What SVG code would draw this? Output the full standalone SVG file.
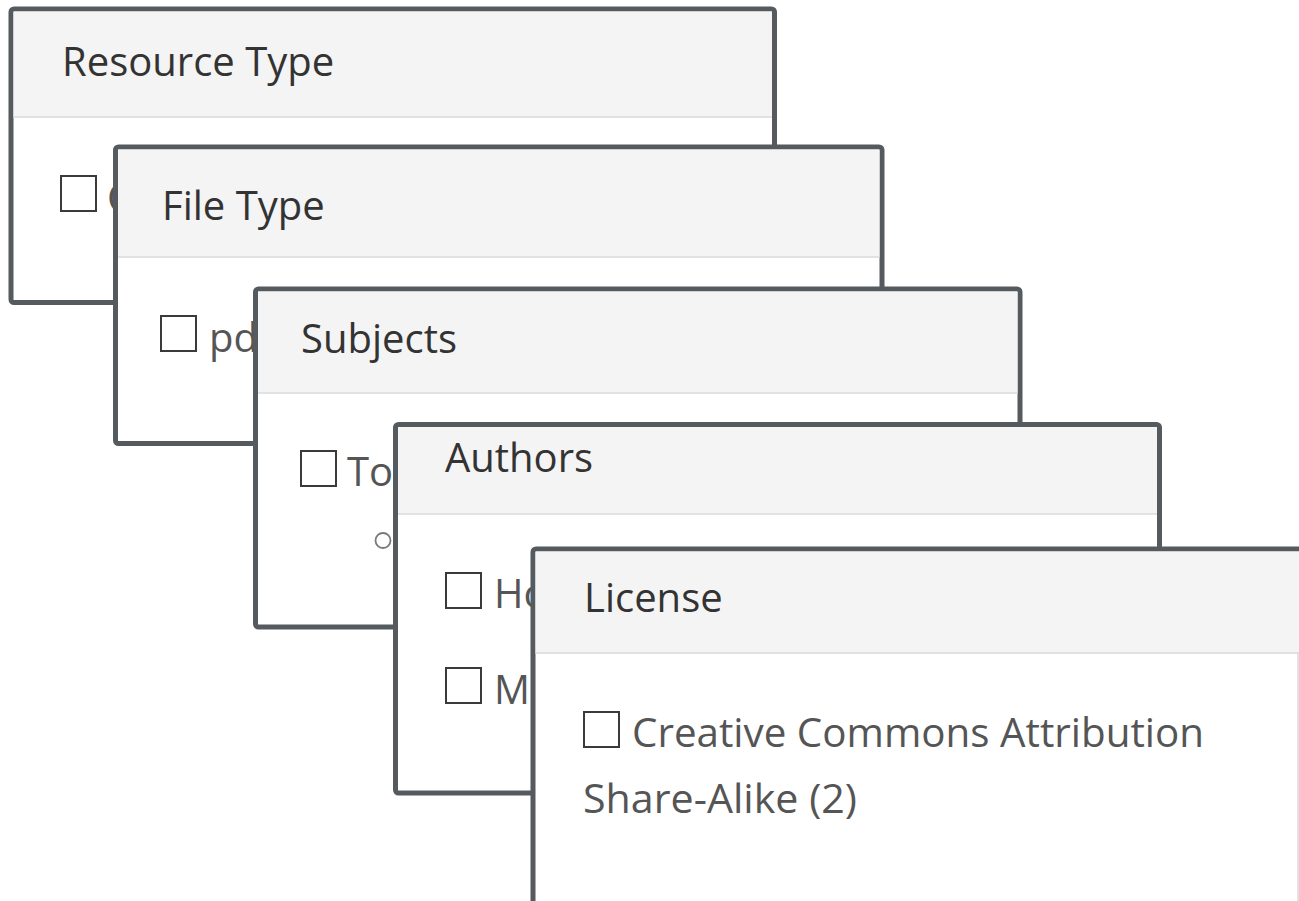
<svg xmlns="http://www.w3.org/2000/svg" width="1299" height="901" viewBox="0 0 1299 901">
<style>
.frame{fill:#ffffff;stroke:#545a5e;stroke-width:5;}
.head{fill:#f4f4f4;}
.sep{stroke:#e2e2e2;stroke-width:2;}
.title{font-family:"Open Sans","Noto Sans",sans-serif;font-size:40px;fill:#333333;}
.item{font-family:"Open Sans","Noto Sans",sans-serif;font-size:40px;fill:#555555;}
.cb{fill:#ffffff;stroke:#3a3a3a;stroke-width:2;}
</style>
<rect width="1299" height="901" fill="#ffffff"/>

<g id="panel-resource-type">
  <rect class="frame" x="11" y="9" width="763.5" height="293.5" rx="3"/>
  <rect class="head" x="13.5" y="11.5" width="758.5" height="105"/>
  <line class="sep" x1="13.5" y1="117" x2="772" y2="117"/>
  <text class="title" x="62" y="76">Resource Type</text>
  <rect class="cb" x="61" y="176" width="35" height="35"/>
  <text class="item" x="107" y="212">C</text>
</g>

<g id="panel-file-type">
  <rect class="frame" x="115.5" y="147" width="766.5" height="296.5" rx="3"/>
  <rect class="head" x="118" y="149.5" width="761.5" height="107"/>
  <line class="sep" x1="118" y1="257" x2="879.5" y2="257"/>
  <text class="title" x="162" y="220">File Type</text>
  <rect class="cb" x="161" y="316" width="35" height="35"/>
  <text class="item" x="209" y="352">pd</text>
</g>

<g id="panel-subjects">
  <rect class="frame" x="255.5" y="289" width="764.5" height="338" rx="3"/>
  <rect class="head" x="258" y="291.5" width="759.5" height="101"/>
  <line class="sep" x1="258" y1="393" x2="1017.5" y2="393"/>
  <text class="title" x="301" y="353">Subjects</text>
  <rect class="cb" x="301" y="451" width="35" height="35"/>
  <text class="item" x="347" y="486">To</text>
  <circle cx="383" cy="540.5" r="7.5" fill="none" stroke="#7a7a7a" stroke-width="1.8"/>
</g>

<g id="panel-authors">
  <rect class="frame" x="395.5" y="424.5" width="764" height="368.5" rx="3"/>
  <rect class="head" x="398" y="427" width="759" height="86.5"/>
  <line class="sep" x1="398" y1="514" x2="1157" y2="514"/>
  <text class="title" x="445" y="472">Authors</text>
  <rect class="cb" x="446" y="573" width="35" height="35"/>
  <text class="item" x="494" y="608">Ho</text>
  <rect class="cb" x="446" y="668" width="35" height="35"/>
  <text class="item" x="494" y="704">M</text>
</g>

<g id="panel-license">
  <rect class="frame" x="533" y="549" width="780" height="370" rx="3"/>
  <rect class="head" x="535.5" y="551.5" width="775" height="101"/>
  <line class="sep" x1="535.5" y1="653" x2="1299" y2="653"/>
  <line x1="1298" y1="653" x2="1298" y2="901" stroke="#d8d8d8" stroke-width="1.5"/>
  <text class="title" x="584" y="612">License</text>
  <rect class="cb" x="584" y="712" width="35" height="35"/>
  <text class="item" x="632" y="747" textLength="572" lengthAdjust="spacingAndGlyphs">Creative Commons Attribution</text>
  <text class="item" x="583" y="813" textLength="274" lengthAdjust="spacingAndGlyphs">Share-Alike (2)</text>
</g>

<g id="connectors"></g>
</svg>
